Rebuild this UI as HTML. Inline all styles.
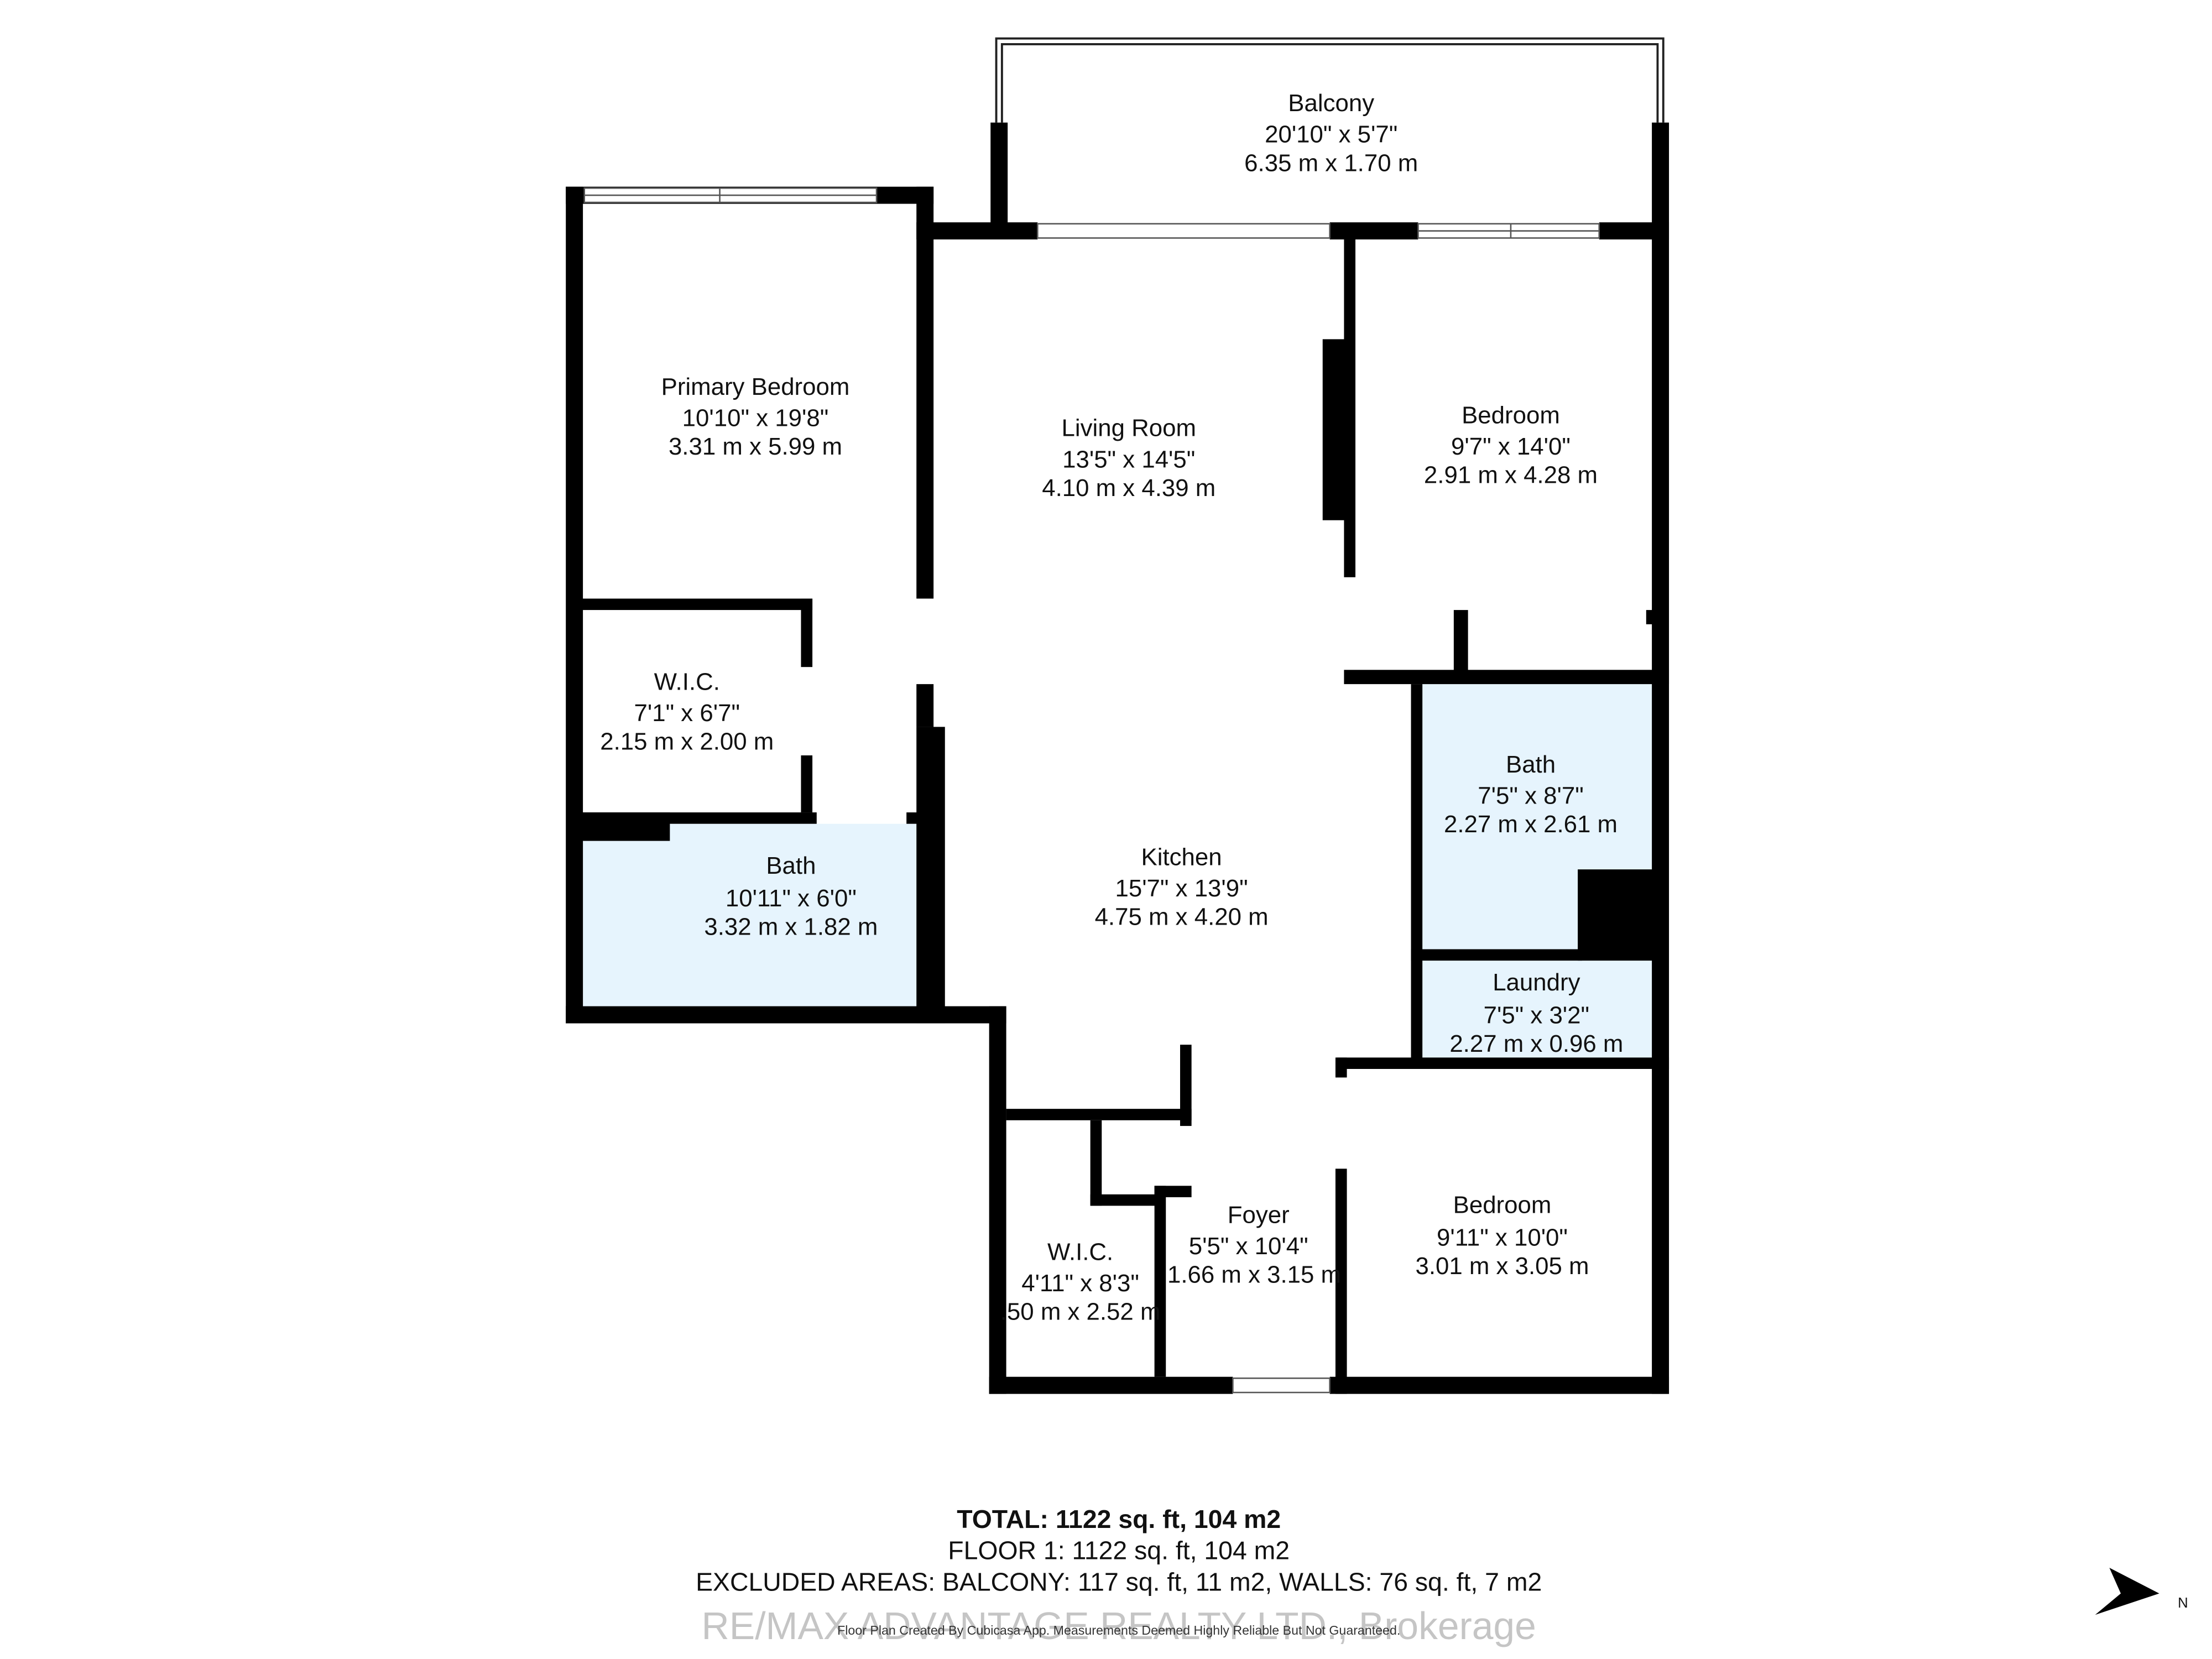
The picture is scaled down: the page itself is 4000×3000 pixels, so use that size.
<!DOCTYPE html>
<html><head><meta charset="utf-8"><style>
html,body{margin:0;padding:0;background:#fff;}
svg{display:block;}
text{font-family:"Liberation Sans",sans-serif;fill:#111;}
</style></head><body>
<svg width="4000" height="3000" viewBox="0 0 1552 1164" xmlns="http://www.w3.org/2000/svg">
<rect width="1552" height="1164" fill="#fff"/>
<g fill="#e6f4fd">
<rect x="409" y="578" width="234" height="128"/>
<rect x="998" y="480" width="161" height="186"/>
<rect x="998" y="674" width="161" height="68"/>
</g>
<g fill="none" stroke="#222" stroke-width="1.5">
<polyline points="703,86 703,31 1163,31 1163,86"/>
<polyline points="699,86 699,27 1167,27 1167,86"/>
</g>
<g fill="#000">
<rect x="397" y="131" width="12" height="587"/>
<rect x="397" y="131" width="258" height="12"/>
<rect x="643" y="131" width="12" height="289"/>
<rect x="643" y="480" width="12" height="30"/>
<rect x="643" y="510" width="20" height="208"/>
<rect x="397" y="706" width="309" height="12"/>
<rect x="694" y="706" width="12" height="272"/>
<rect x="694" y="966" width="171" height="12"/>
<rect x="933" y="966" width="238" height="12"/>
<rect x="1159" y="86" width="12" height="892"/>
<rect x="695" y="86" width="12" height="82"/>
<rect x="643" y="156" width="85" height="12"/>
<rect x="933" y="156" width="62" height="12"/>
<rect x="1122" y="156" width="49" height="12"/>
<rect x="405" y="420" width="165" height="8"/>
<rect x="562" y="420" width="8" height="48"/>
<rect x="562" y="530" width="8" height="40"/>
<rect x="405" y="570" width="65" height="20"/>
<rect x="405" y="570" width="168" height="8"/>
<rect x="636" y="570" width="10" height="8"/>
<rect x="943" y="168" width="8" height="237"/>
<rect x="928" y="238" width="20" height="127"/>
<rect x="943" y="470" width="228" height="10"/>
<rect x="1020" y="428" width="10" height="44"/>
<rect x="1155" y="428" width="8" height="10"/>
<rect x="990" y="480" width="8" height="265"/>
<rect x="990" y="666" width="120" height="8"/>
<rect x="1107" y="610" width="58" height="64"/>
<rect x="938" y="742" width="233" height="8"/>
<rect x="937" y="742" width="8" height="14"/>
<rect x="937" y="820" width="8" height="158"/>
<rect x="706" y="778" width="130" height="8"/>
<rect x="828" y="733" width="8" height="57"/>
<rect x="765" y="786" width="8" height="60"/>
<rect x="765" y="838" width="47" height="8"/>
<rect x="810" y="832" width="8" height="134"/>
<rect x="810" y="832" width="26" height="8"/>
</g>
<g fill="#fff" stroke="#555" stroke-width="1">
<rect x="410" y="132" width="205" height="10"/>
<rect x="728" y="157" width="205" height="10"/>
<rect x="995" y="157" width="127" height="10"/>
<rect x="865" y="967" width="68" height="10"/>
</g>
<g stroke="#555" stroke-width="1">
<line x1="410" y1="137" x2="615" y2="137"/>
<line x1="995" y1="162" x2="1122" y2="162"/>
<line x1="505" y1="132" x2="505" y2="142"/>
<line x1="1060" y1="157" x2="1060" y2="167"/>
</g>
<g font-size="17" text-anchor="middle">
<text x="934" y="78">Balcony</text>
<text x="934" y="100">20'10" x 5'7"</text>
<text x="934" y="120">6.35 m x 1.70 m</text>
<text x="530" y="277">Primary Bedroom</text>
<text x="530" y="299">10'10" x 19'8"</text>
<text x="530" y="319">3.31 m x 5.99 m</text>
<text x="792" y="306">Living Room</text>
<text x="792" y="328">13'5" x 14'5"</text>
<text x="792" y="348">4.10 m x 4.39 m</text>
<text x="1060" y="297">Bedroom</text>
<text x="1060" y="319">9'7" x 14'0"</text>
<text x="1060" y="339">2.91 m x 4.28 m</text>
<text x="482" y="484">W.I.C.</text>
<text x="482" y="506">7'1" x 6'7"</text>
<text x="482" y="526">2.15 m x 2.00 m</text>
<text x="1074" y="542">Bath</text>
<text x="1074" y="564">7'5" x 8'7"</text>
<text x="1074" y="584">2.27 m x 2.61 m</text>
<text x="555" y="613">Bath</text>
<text x="555" y="636">10'11" x 6'0"</text>
<text x="555" y="656">3.32 m x 1.82 m</text>
<text x="829" y="607">Kitchen</text>
<text x="829" y="629">15'7" x 13'9"</text>
<text x="829" y="649">4.75 m x 4.20 m</text>
<text x="1078" y="695">Laundry</text>
<text x="1078" y="718">7'5" x 3'2"</text>
<text x="1078" y="738">2.27 m x 0.96 m</text>
<text x="883" y="858">Foyer</text>
<text x="876" y="880">5'5" x 10'4"</text>
<text x="880" y="900">1.66 m x 3.15 m</text>
<text x="1054" y="851">Bedroom</text>
<text x="1054" y="874">9'11" x 10'0"</text>
<text x="1054" y="894">3.01 m x 3.05 m</text>
<text x="758" y="884">W.I.C.</text>
<text x="758" y="906">4'11" x 8'3"</text>
<text x="758" y="926">.50 m x 2.52 m</text>
</g>
<g text-anchor="middle">
<text x="785" y="1072" font-size="18" font-weight="bold">TOTAL: 1122 sq. ft, 104 m2</text>
<text x="785" y="1094" font-size="18">FLOOR 1: 1122 sq. ft, 104 m2</text>
<text x="785" y="1116" font-size="18">EXCLUDED AREAS: BALCONY: 117 sq. ft, 11 m2, WALLS: 76 sq. ft, 7 m2</text>
<text x="785" y="1150" font-size="27" style="fill:#bbb" opacity="0.85">RE/MAX ADVANTAGE REALTY LTD., Brokerage</text>
<text x="785" y="1147" font-size="9" style="fill:#333">Floor Plan Created By Cubicasa App. Measurements Deemed Highly Reliable But Not Guaranteed.</text>
</g>
<polygon points="1470,1133 1515,1118 1480,1100 1488,1118" fill="#000"/>
<text x="1528" y="1128" font-size="10">N</text>
</svg>
</body></html>
